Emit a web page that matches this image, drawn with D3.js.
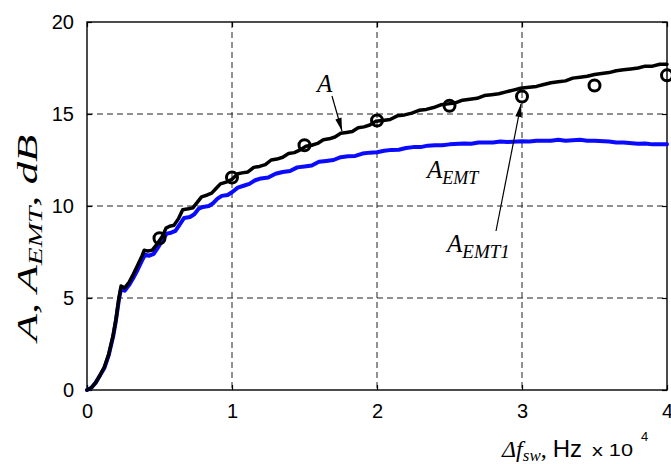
<!DOCTYPE html>
<html><head><meta charset="utf-8">
<script src="https://cdn.jsdelivr.net/npm/d3@7"></script>
<style>
html,body{margin:0;padding:0;background:#fff;}
svg{display:block;}
.tick text{font-family:"Liberation Sans",Arial,sans-serif;}
</style>
</head><body>
<svg id="chart" width="671" height="464"></svg>
<script>
// Δf_sw in units of 1e4 Hz
const xTicks = [0, 1, 2, 3, 4];
const yTicks = [0, 5, 10, 15, 20];

// Curve A (black)
const aX = [0,0.03,0.06,0.09,0.12,0.15,0.18,0.2,0.22,0.235,0.26,0.29,0.32,0.35,0.38,0.395,0.42,0.45,0.48,0.52,0.545,0.57,0.6,0.63,0.66,0.7,0.73,0.76,0.79,0.83,0.86,0.89,0.92,0.96,1.0,1.04,1.07,1.11,1.15,1.19,1.23,1.27,1.31,1.35,1.39,1.43,1.47,1.51,1.55,1.59,1.63,1.67,1.71,1.75,1.79,1.83,1.87,1.91,1.95,1.99,2.04,2.09,2.14,2.19,2.24,2.29,2.34,2.39,2.44,2.49,2.54,2.59,2.64,2.69,2.74,2.79,2.84,2.89,2.94,2.99,3.05,3.1,3.15,3.2,3.25,3.3,3.35,3.4,3.45,3.5,3.55,3.6,3.65,3.7,3.75,3.8,3.85,3.9,3.95,4.0];
const aY = [0,0.12,0.4,0.8,1.25,1.95,2.95,3.85,5.0,5.65,5.55,5.85,6.3,6.8,7.3,7.6,7.55,7.6,7.9,8.35,8.8,8.9,8.95,9.3,9.8,9.85,9.9,10.2,10.5,10.6,10.7,10.95,11.2,11.3,11.45,11.75,11.8,11.85,12.1,12.15,12.25,12.5,12.55,12.65,12.85,12.9,13.05,13.25,13.3,13.4,13.6,13.65,13.75,13.95,14.0,14.05,14.25,14.3,14.4,14.6,14.65,14.7,14.9,14.95,15.05,15.2,15.25,15.35,15.5,15.55,15.6,15.75,15.8,15.85,16.0,16.05,16.1,16.2,16.3,16.4,16.45,16.5,16.6,16.7,16.75,16.8,16.95,17.0,17.05,17.15,17.2,17.25,17.35,17.4,17.45,17.5,17.6,17.6,17.7,17.7];

// Curve A_EMT (blue)
const bX = [0,0.03,0.06,0.09,0.12,0.15,0.18,0.2,0.22,0.235,0.26,0.29,0.32,0.35,0.38,0.4,0.43,0.46,0.49,0.52,0.55,0.58,0.61,0.64,0.67,0.71,0.74,0.77,0.8,0.84,0.87,0.9,0.93,0.97,1.0,1.04,1.08,1.12,1.16,1.2,1.25,1.3,1.35,1.4,1.45,1.5,1.55,1.6,1.65,1.7,1.75,1.8,1.85,1.9,1.95,2.0,2.05,2.1,2.15,2.2,2.25,2.3,2.35,2.4,2.45,2.5,2.6,2.65,2.7,2.8,2.85,2.9,3.0,3.05,3.1,3.2,3.25,3.3,3.4,3.45,3.5,3.6,3.65,3.7,3.8,3.85,3.9,4.0];
const bY = [0,0.12,0.4,0.8,1.2,1.9,2.9,3.8,4.9,5.5,5.4,5.7,6.1,6.55,7.05,7.35,7.3,7.4,7.75,8.15,8.5,8.55,8.65,9.0,9.35,9.4,9.55,9.85,9.95,10.0,10.15,10.4,10.55,10.6,10.75,11.0,11.1,11.2,11.4,11.5,11.55,11.75,11.85,11.9,12.1,12.15,12.2,12.4,12.45,12.5,12.65,12.7,12.72,12.85,12.9,12.92,13.0,13.05,13.06,13.15,13.2,13.2,13.28,13.3,13.3,13.35,13.4,13.38,13.45,13.45,13.5,13.48,13.52,13.5,13.55,13.55,13.6,13.55,13.6,13.55,13.55,13.5,13.45,13.45,13.38,13.4,13.35,13.35];

// A_EMT1 (circle markers)
const cX = [0.5, 1.0, 1.5, 2.0, 2.5, 3.0, 3.5, 4.0];
const cY = [8.25, 11.55, 13.3, 14.65, 15.45, 15.95, 16.55, 17.1];

const margin = {left: 87, top: 22, right: 4, bottom: 74};
const W = 671, H = 464;
const iw = W - margin.left - margin.right, ih = H - margin.top - margin.bottom;

const svg = d3.select("#chart");
const g = svg.append("g").attr("transform", `translate(${margin.left},${margin.top})`);

const x = d3.scaleLinear().domain([0, 4]).range([0, iw]);
const y = d3.scaleLinear().domain([0, 20]).range([ih, 0]);

// grid
g.append("g").selectAll("line").data(xTicks.slice(1, -1)).join("line")
  .attr("x1", d => x(d)).attr("x2", d => x(d)).attr("y1", 0).attr("y2", ih)
  .attr("stroke", "#222").attr("stroke-width", 1).attr("stroke-dasharray", "6,4");
g.append("g").selectAll("line").data(yTicks.slice(1, -1)).join("line")
  .attr("y1", d => y(d)).attr("y2", d => y(d)).attr("x1", 0).attr("x2", iw)
  .attr("stroke", "#222").attr("stroke-width", 1).attr("stroke-dasharray", "6,4");

// axes
const xAxis = g.append("g").attr("transform", `translate(0,${ih})`)
  .call(d3.axisBottom(x).tickValues(xTicks).tickSize(-5).tickPadding(14).tickFormat(d3.format("d")));
const yAxis = g.append("g")
  .call(d3.axisLeft(y).tickValues(yTicks).tickSize(-5).tickPadding(13).tickFormat(d3.format("d")));
const xTop = g.append("g").call(d3.axisTop(x).tickValues(xTicks).tickSize(-5).tickFormat(""));
const yRight = g.append("g").attr("transform", `translate(${iw},0)`)
  .call(d3.axisRight(y).tickValues(yTicks).tickSize(-5).tickFormat(""));
[xAxis, yAxis, xTop, yRight].forEach(a => {
  a.select(".domain").remove();
  a.selectAll(".tick line").attr("stroke", "#000").attr("stroke-width", 1.2);
  a.selectAll(".tick text").attr("font-size", 20).attr("fill", "#000");
});
xAxis.selectAll(".tick text").attr("dy", "0.71em");

// frame
g.append("rect").attr("x", 0).attr("y", 0).attr("width", iw).attr("height", ih)
  .attr("fill", "none").attr("stroke", "#000").attr("stroke-width", 1.4);

const line = d3.line().x(d => x(d[0])).y(d => y(d[1]));

g.append("path").datum(bX.map((v, i) => [v, bY[i]]))
  .attr("d", line).attr("fill", "none").attr("stroke", "#0a0aff")
  .attr("stroke-width", 4).attr("stroke-linejoin", "round").attr("stroke-linecap", "round");
g.append("path").datum(aX.map((v, i) => [v, aY[i]]))
  .attr("d", line).attr("fill", "none").attr("stroke", "#000")
  .attr("stroke-width", 3.5).attr("stroke-linejoin", "round").attr("stroke-linecap", "round");

g.append("g").selectAll("circle").data(cX.map((v, i) => [v, cY[i]])).join("circle")
  .attr("cx", d => x(d[0])).attr("cy", d => y(d[1])).attr("r", 5.5)
  .attr("fill", "none").attr("stroke", "#000").attr("stroke-width", 3);

// annotations
const serif = '"Liberation Serif","Times New Roman",serif';
const sans = '"Liberation Sans",Arial,sans-serif';
function arrow(x1, y1, x2, y2) {
  svg.append("line").attr("x1", x1).attr("y1", y1).attr("x2", x2).attr("y2", y2)
    .attr("stroke", "#000").attr("stroke-width", 1.2);
  const ang = Math.atan2(y2 - y1, x2 - x1), L = 13, Wd = 3.2;
  const bx = x2 - L * Math.cos(ang), by = y2 - L * Math.sin(ang);
  const px = -Math.sin(ang) * Wd, py = Math.cos(ang) * Wd;
  svg.append("path").attr("d", `M${x2},${y2}L${bx + px},${by + py}L${bx - px},${by - py}Z`).attr("fill", "#000");
}
svg.append("text").attr("x", 317).attr("y", 92).attr("font-family", serif).attr("font-style", "italic")
  .attr("font-size", 25).text("A");
arrow(332, 96, 342, 131);

const t1 = svg.append("text").attr("x", 427).attr("y", 178).attr("font-family", serif).attr("font-style", "italic").attr("font-size", 25);
t1.append("tspan").text("A");
t1.append("tspan").attr("font-size", 18).attr("dy", 6).text("EMT");

const t2 = svg.append("text").attr("x", 447).attr("y", 252).attr("font-family", serif).attr("font-style", "italic").attr("font-size", 25);
t2.append("tspan").text("A");
t2.append("tspan").attr("font-size", 19).attr("dy", 6).text("EMT1");
arrow(496, 231, 521, 104);

// y axis label (slightly stretched along its length like the reference)
const yl = svg.append("text").attr("text-anchor", "middle")
  .attr("font-family", serif).attr("font-style", "italic").attr("font-size", 29);
yl.append("tspan").text("A, A");
yl.append("tspan").attr("font-size", 19).attr("dy", 5).text("EMT");
yl.append("tspan").attr("dy", -5).text(", dB");
const ylw = yl.node().getBBox().width;
yl.attr("transform", `translate(37,238) rotate(-90) scale(${210 / ylw},1)`);

// x axis label
const xl = svg.append("text").attr("x", 502).attr("y", 457).attr("font-size", 24);
xl.append("tspan").attr("font-family", serif).attr("font-style", "italic").text("Δf");
xl.append("tspan").attr("font-family", serif).attr("font-style", "italic").attr("font-size", 17).attr("dy", 4).text("sw");
xl.append("tspan").attr("font-family", serif).attr("dy", -4).text(", ");
xl.append("tspan").attr("font-family", sans).text("Hz");
svg.append("text").attr("x", 592).attr("y", 456).attr("font-family", sans).attr("font-size", 17)
  .attr("textLength", 41).attr("lengthAdjust", "spacingAndGlyphs").text("x 10");
svg.append("text").attr("x", 641).attr("y", 441).attr("font-family", sans).attr("font-size", 13).text("4");
</script>
</body></html>
